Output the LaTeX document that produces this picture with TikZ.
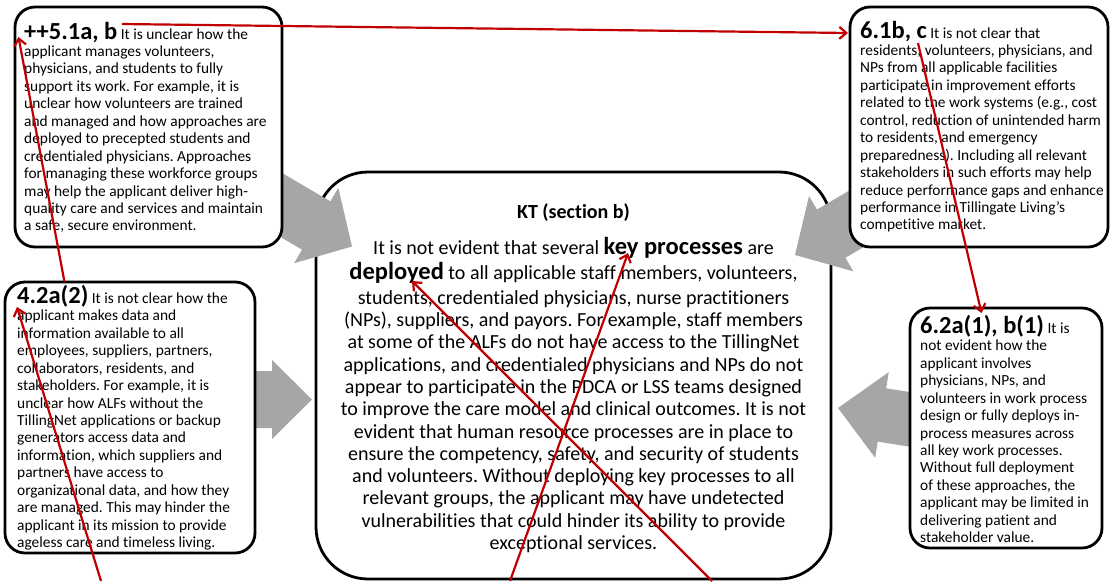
\documentclass[tikz,border=0pt]{standalone}
\usepackage{fontspec}
\setmainfont{Carlito}[Ligatures=NoCommon]
\usetikzlibrary{arrows.meta}
\definecolor{arrowgray}{HTML}{A6A6A6}
\definecolor{linkred}{HTML}{C00000}
\newcommand\grayblock[6]{\fill[arrowgray,shift={(#1,#2)},rotate=#3] (0,0) -- (-#4,-#5) -- (-#4,-#6) -- ({-#4-70},-#6) -- ({-#4-70},#6) -- (-#4,#6) -- (-#4,#5) -- cycle;}
\newcommand\ttl[1]{{\fontsize{24.5}{17.45}\selectfont\bfseries #1}}
\newcommand\kbig[1]{{\fontsize{24.5}{22.27}\selectfont\bfseries #1}}
\frenchspacing
\begin{document}
\begin{tikzpicture}[x=1pt,y=-1pt,
  sidebox/.style={draw=black, line width=2.8pt, fill=white, rounded corners=20pt, inner sep=0pt},
  mainbox/.style={draw=black, line width=2.8pt, fill=white, rounded corners=52pt, inner sep=0pt},
  boxtext/.style={anchor=base west, inner sep=0pt, font=\fontsize{15.4}{17.45}\selectfont},
  maintext/.style={anchor=base, inner sep=0pt, font=\fontsize{20}{22.27}\selectfont},
  link/.style={draw=linkred, line width=2.2pt, -{Straight Barb[length=7pt,width=12pt]}}]
\useasboundingbox (0,0) rectangle (1110,581);

% central box
\node[mainbox, minimum width=515pt, minimum height=407pt] (kt) at (573.5,375.5) {};
\node[maintext] (ktt) at (573.5,218.5) {\parbox[t]{520pt}{\centering\lineskiplimit=-50pt
\textbf{KT (section b)}\\[13.4pt]
It is not evident that several \kbig{key processes} are\\[3pt]
\kbig{deployed} to all applicable staff members, volunteers,\\[2.7pt]
students, credentialed physicians, nurse practitioners\\
(NPs), suppliers, and payors. For example, staff members\\
at some of the ALFs do not have access to the TillingNet\\
applications, and credentialed physicians and NPs do not\\
appear to participate in the PDCA or LSS teams designed\\
to improve the care model and clinical outcomes. It is not\\
evident that human resource processes are in place to\\
ensure the competency, safety, and security of students\\
and volunteers. Without deploying key processes to all\\
relevant groups, the applicant may have undetected\\
vulnerabilities that could hinder its ability to provide\\
exceptional services.}};

% gray block arrows
\grayblock{352}{246.5}{-30.4}{41.5}{43.7}{28}
\grayblock{795}{255}{210.5}{42}{43.7}{28}
\grayblock{312}{399.5}{0}{40}{39.5}{28.5}
\grayblock{838}{408}{171}{44.5}{43.4}{27}

% side boxes
\node[sidebox, minimum width=267pt, minimum height=240pt] (boxA) at (148.5,127) {};
\node[sidebox, minimum width=258pt, minimum height=240pt] (boxB) at (979,127) {};
\node[sidebox, minimum width=250pt, minimum height=271pt] (boxC) at (130,417.5) {};
\node[sidebox, minimum width=192pt, minimum height=240pt] (boxD) at (1006,428) {};

\node[boxtext] (tA) at (24,39) {\parbox[t]{300pt}{\raggedright\lineskiplimit=-50pt
\ttl{++5.1a, b} It is unclear how the\\
applicant manages volunteers,\\
physicians, and students to fully\\
support its work. For example, it is\\
unclear how volunteers are trained\\
and managed and how approaches are\\
deployed to precepted students and\\
credentialed physicians. Approaches\\
for managing these workforce groups\\
may help the applicant deliver high-\\
quality care and services and maintain\\
a safe, secure environment.}};

\node[boxtext] (tB) at (860,38) {\parbox[t]{300pt}{\raggedright\lineskiplimit=-50pt
\ttl{6.1b, c} It is not clear that\\
residents, volunteers, physicians, and\\
NPs from all applicable facilities\\
participate in improvement efforts\\
related to the work systems (e.g., cost\\
control, reduction of unintended harm\\
to residents, and emergency\\
preparedness). Including all relevant\\
stakeholders in such efforts may help\\
reduce performance gaps and enhance\\
performance in Tillingate Living’s\\
competitive market.}};

\node[boxtext] (tC) at (17,303.3) {\parbox[t]{300pt}{\raggedright\lineskiplimit=-50pt
\ttl{4.2a(2)} It is not clear how the\\
applicant makes data and\\
information available to all\\
employees, suppliers, partners,\\
collaborators, residents, and\\
stakeholders. For example, it is\\
unclear how ALFs without the\\
TillingNet applications or backup\\
generators access data and\\
information, which suppliers and\\
partners have access to\\
organizational data, and how they\\
are managed. This may hinder the\\
applicant in its mission to provide\\
ageless care and timeless living.}};

\node[boxtext] (tD) at (920,333.3) {\parbox[t]{300pt}{\raggedright\lineskiplimit=-50pt
\ttl{6.2a(1), b(1)} It is\\
not evident how the\\
applicant involves\\
physicians, NPs, and\\
volunteers in work process\\
design or fully deploys in-\\
process measures across\\
all key work processes.\\
Without full deployment\\
of these approaches, the\\
applicant may be limited in\\
delivering patient and\\
stakeholder value.}};

% red link arrows
\coordinate (aTitle) at (122,24);
\coordinate (bIn) at (848,33);
\coordinate (cTop) at (64.5,282);
\coordinate (aTip) at (18.5,37);
\coordinate (botC) at (101,581);
\coordinate (cTip) at (17,307);
\coordinate (botK) at (510,581);
\coordinate (kpTip) at (628,253);
\coordinate (botD) at (712,581);
\coordinate (depTip) at (412,281);
\coordinate (bTitle) at (918,43);
\coordinate (dTop) at (981.5,313);

\draw[link] (aTitle) -- (bIn);
\draw[link] (cTop) -- (aTip);
\draw[link] (botC) -- (cTip);
\draw[link] (botK) -- (kpTip);
\draw[link] (botD) -- (depTip);
\draw[link] (bTitle) -- (dTop);
\end{tikzpicture}
\end{document}
